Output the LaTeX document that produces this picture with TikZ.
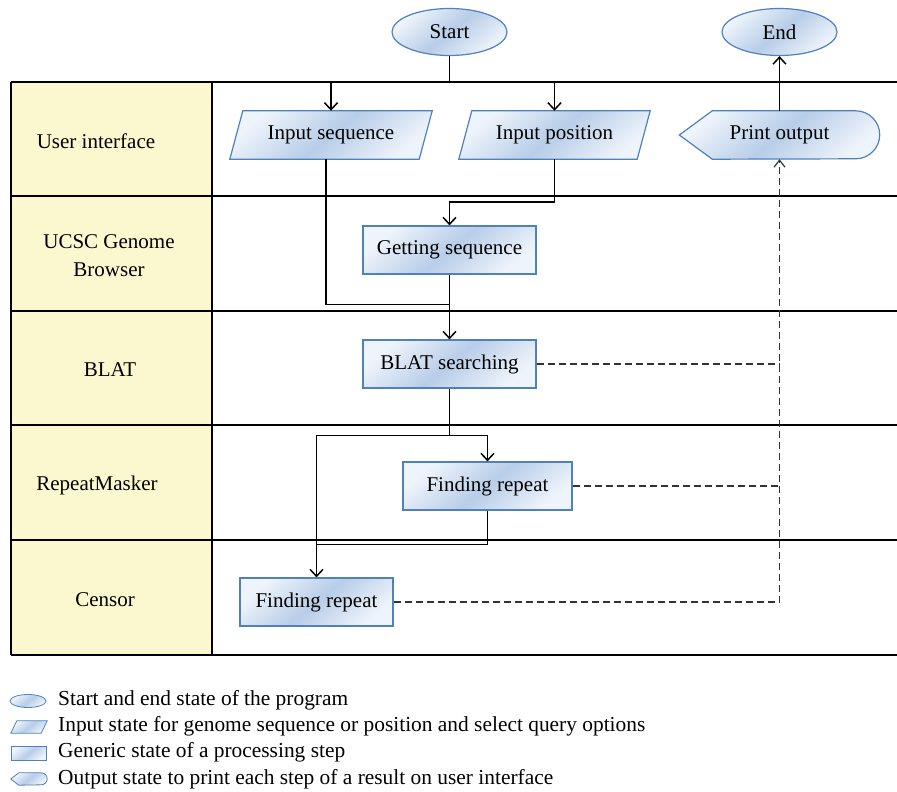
\documentclass[tikz,border=0pt]{standalone}
\usepackage{fontspec}
\setmainfont{Liberation Serif}
\usetikzlibrary{shapes.geometric, arrows.meta, backgrounds}

\definecolor{boxline}{RGB}{79,129,189}
\definecolor{boxblue}{RGB}{184,205,232}
\definecolor{boxlight}{RGB}{238,244,251}
\definecolor{lanefill}{RGB}{251,247,207}

\begin{document}
\begin{tikzpicture}[x=1pt, y=1pt,
    every node/.style = {font=\fontsize{21}{28}\selectfont},
    shaded/.style = {draw=boxline, line width=1.2pt,
        top color=boxlight, bottom color=boxlight, middle color=boxblue,
        shading angle=40},
    term/.style = {shaded, ellipse, minimum width=115, minimum height=47, inner sep=0pt},
    body/.style = {rectangle, minimum height=48, inner sep=0pt},
    proc/.style = {shaded, rectangle, minimum height=48, inner sep=0pt},
    arr/.style = {line width=1.5pt, -{Straight Barb[length=7pt, width=13pt]}},
    link/.style = {line width=1.5pt},
    dashline/.style = {line width=1.2pt, dash pattern=on 7pt off 4pt, black!80},
    legtxt/.style = {anchor=west, inner sep=0pt, font=\fontsize{21.4}{26}\selectfont}]
\useasboundingbox (0,0) rectangle (897,-792);

% swim lanes
\fill[lanefill] (11,-82) rectangle (212,-655);
\foreach \y in {82,196,311,425,540,655}
    \draw[line width=2pt] (11,-\y) -- (897,-\y);
\draw[line width=2pt] (11,-82) -- (11,-655) (212,-82) -- (212,-655);

\node (ui) at (96,-141) {User interface};
\node[align=center] (ucsc) at (109,-256) {UCSC Genome\\Browser};
\node (blatl) at (110,-370) {BLAT};
\node (rml) at (97,-485) {RepeatMasker};
\node (cenl) at (105,-600) {Censor};

% states
\node[term] (start) at (449.5,-32) {Start};
\node[term] (end) at (779.5,-32) {End};
\node[body, minimum width=189] (inseq) at (331,-135) {Input sequence};
\node[body, minimum width=178] (inpos) at (554.5,-135) {Input position};
\node[body, minimum width=200] (pout) at (779.5,-135) {Print output};
\begin{scope}[on background layer]
    \foreach \n in {inseq,inpos}
        \draw[shaded] ([xshift=-6.5]\n.south west) -- ([xshift=6.5]\n.north west)
            -- ([xshift=6.5]\n.north east) -- ([xshift=-6.5]\n.south east) -- cycle;
    \draw[shaded] (pout.west) -- ([xshift=33]pout.north west)
        -- ([xshift=-24]pout.north east) arc (90:-90:24)
        -- ([xshift=33]pout.south west) -- cycle;
\end{scope}
\node[proc, minimum width=173] (getseq) at (449.5,-250) {Getting sequence};
\node[proc, minimum width=173] (blat) at (449.5,-364) {BLAT searching};
\node[proc, minimum width=169] (rmfind) at (487.5,-486) {Finding repeat};
\node[proc, minimum width=153] (cefind) at (316.5,-602) {Finding repeat};

% flow
\coordinate (split1) at (start.south |- 0,-82);
\draw[link] (start) -- (split1);
\draw[arr] (split1) -| (inseq);
\draw[arr] (split1) -| (inpos);
\draw[arr] (inpos.south) -- ++(0,-43) -| (getseq.north);
\draw[link] ([xshift=-5]inseq.south) |- ([yshift=-30]getseq.south);
\draw[arr] (getseq) -- (blat);
\coordinate (split2) at ([yshift=-47]blat.south);
\draw[link] (blat) -- (split2);
\draw[arr] (split2) -| (rmfind);
\draw[arr] (split2) -| (cefind);
\draw[link] (rmfind.south) |- ([yshift=33]cefind.north);
\draw[arr] (pout) -- (end);

% results to output
\draw[dashline] (blat.east) -- (blat.east -| pout);
\draw[dashline] (rmfind.east) -- (rmfind.east -| pout);
\draw[dashline, -{Straight Barb[length=7pt, width=11pt]}] (cefind.east) -| (pout.south);

% legend
\node[term, minimum width=36, minimum height=13, line width=0.8pt] (lg1) at (28,-701) {};
\node[body, minimum width=30, minimum height=12] (lg2) at (29,-727) {};
\node[proc, minimum width=35, minimum height=14, line width=0.8pt] (lg3) at (29,-753) {};
\node[body, minimum width=36, minimum height=12] (lg4) at (29,-779) {};
\begin{scope}[on background layer]
    \draw[shaded, line width=0.8pt] ([xshift=-3]lg2.south west) -- ([xshift=3]lg2.north west)
        -- ([xshift=3]lg2.north east) -- ([xshift=-3]lg2.south east) -- cycle;
    \draw[shaded, line width=0.8pt] (lg4.west) -- ([xshift=8]lg4.north west)
        -- ([xshift=-6]lg4.north east) arc (90:-90:6)
        -- ([xshift=8]lg4.south west) -- cycle;
\end{scope}
\node[legtxt] (lt1) at (58,-700) {Start and end state of the program};
\node[legtxt] (lt2) at (58,-726) {Input state for genome sequence or position and select query options};
\node[legtxt] (lt3) at (58,-752) {Generic state of a processing step};
\node[legtxt] (lt4) at (58,-779) {Output state to print each step of a result on user interface};
\end{tikzpicture}
\end{document}
